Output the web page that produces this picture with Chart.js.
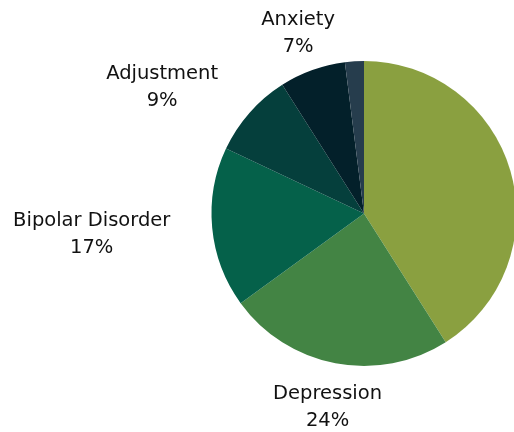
<!DOCTYPE html>
<html>
<head>
<meta charset="utf-8">
<script src="https://cdn.jsdelivr.net/npm/chart.js@4/dist/chart.umd.min.js"></script>
<style>
    html, body { margin: 0; padding: 0; background: #fff; overflow: hidden; }
    .wrap { position: relative; width: 530px; height: 432px; }
</style>
</head>
<body>
<div class="wrap"><canvas id="diagnosisChart"></canvas></div>
<script>
(function () {
    'use strict';

    // slices clockwise from 12 o'clock; null = no label shown in the picture
    var categories = [null, 'Depression', 'Bipolar Disorder', 'Adjustment', 'Anxiety', null];
    var shares = [41, 24, 17, 9, 7, 2];
    var sliceColors = ['#8aa040', '#438444', '#05614a', '#053f3c', '#03202a', '#263d4d'];

    var FONT = '19.5px "DejaVu Sans", sans-serif';
    var LINE_GAP = 27;
    var LABEL_GAP = 42;
    var TEXT_SHIFT = 3;

    var outsideLabels = {
        id: 'outsideLabels',
        afterDatasetsDraw: function (chart) {
            var ctx = chart.ctx;
            var meta = chart.getDatasetMeta(0);
            var values = chart.data.datasets[0].data;
            var total = values.reduce(function (a, b) { return a + b; }, 0);
            ctx.save();
            ctx.font = FONT;
            ctx.fillStyle = '#111111';
            ctx.textBaseline = 'middle';
            ctx.textAlign = 'center';
            meta.data.forEach(function (arc, i) {
                var name = chart.data.labels[i];
                if (!name) { return; }
                var p = arc.getProps(['x', 'y', 'startAngle', 'endAngle', 'outerRadius'], true);
                var mid = (p.startAngle + p.endAngle) / 2;
                var dx = Math.cos(mid), dy = Math.sin(mid);
                var ax = p.x + dx * (p.outerRadius + LABEL_GAP);
                var ay = p.y + dy * (p.outerRadius + LABEL_GAP) + TEXT_SHIFT;
                var pct = Math.round(values[i] / total * 100) + '%';
                var w = Math.max(ctx.measureText(name).width, ctx.measureText(pct).width);
                // side labels hang off the anchor, top/bottom ones sit centred on it
                var tx = ax;
                if (dx < -0.5) { tx = ax - w / 2; } else if (dx > 0.5) { tx = ax + w / 2; }
                ctx.fillText(name, tx, ay - LINE_GAP / 2);
                ctx.fillText(pct, tx, ay + LINE_GAP / 2);
            });
            ctx.restore();
        }
    };

    new Chart(document.getElementById('diagnosisChart'), {
        type: 'pie',
        data: {
            labels: categories,
            datasets: [{ data: shares, backgroundColor: sliceColors, borderWidth: 0 }]
        },
        options: {
            responsive: true,
            maintainAspectRatio: false,
            animation: false,
            layout: { padding: { left: 211.5, right: 13.5, top: 61, bottom: 66 } },
            plugins: { legend: { display: false }, tooltip: { enabled: false } }
        },
        plugins: [outsideLabels]
    });
}());
</script>
</body>
</html>
